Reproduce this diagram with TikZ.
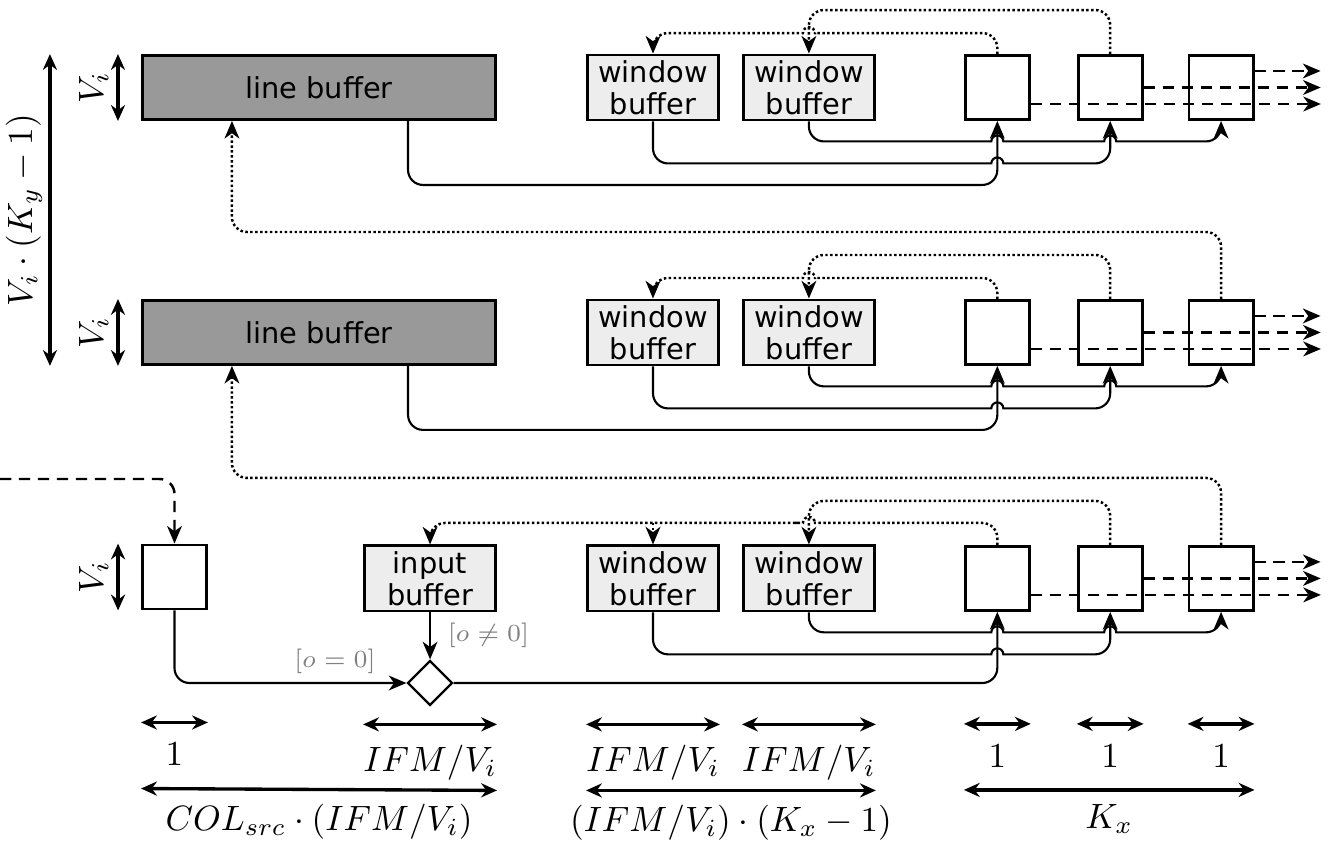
\documentclass[tikz,border=0pt]{standalone}
\usepackage{fontspec}
\newfontfamily\boxfont{DejaVu Sans}
\usetikzlibrary{arrows.meta, positioning, calc, shapes.geometric}
\usepackage{xcolor}
\definecolor{LineGray}{HTML}{999999}
\definecolor{BufGray}{HTML}{EDEDED}

\begin{document}
\begin{tikzpicture}[
    x=0.01cm, y=-0.01cm,
    linebuf/.style={
        draw, line width=0.8pt, fill=LineGray, minimum width=3.53cm, minimum height=0.64cm,
        font=\boxfont\fontsize{8.2}{9.1}\selectfont
    },
    winbuf/.style={
        draw, line width=0.8pt, fill=BufGray, minimum width=1.31cm, minimum height=0.65cm,
        inner sep=0pt, align=center, font=\boxfont\fontsize{8.2}{9.1}\selectfont
    },
    cellbox/.style={draw, line width=0.8pt, fill=white, minimum size=0.64cm},
    mux/.style={draw, diamond, line width=0.65pt, fill=white, minimum size=0.45cm, inner sep=0pt},
    conn/.style={-{Stealth[length=5pt, width=4.2pt, inset=1.5pt]}, line width=0.6pt},
    fb/.style={conn, line width=0.7pt, dash pattern=on 0.7pt off 0.7pt},
    outarr/.style={conn, line width=0.7pt, dash pattern=on 3.2pt off 2.2pt},
    dimarr/.style={{Stealth[length=4.5pt, width=4pt]}-{Stealth[length=4.5pt, width=4pt]}, line width=0.95pt},
    lbl/.style={font=\fontsize{9.8}{12}\selectfont, inner sep=0pt},
    cond/.style={font=\fontsize{7.5}{9}\selectfont, text=black!50, inner sep=0pt}
]
\useasboundingbox (0,0) rectangle (1329,843);

% =============================================
% ROW A
% =============================================
\node[linebuf] (lineA) at (319,87.5) {line buffer};
\node[winbuf, right=0.89cm of lineA] (winA1) {window\\buffer};
\node[winbuf, right=0.22cm of winA1] (winA2) {window\\buffer};
\node[cellbox, right=0.88cm of winA2] (cellA1) {};
\node[cellbox, right=0.46cm of cellA1] (cellA2) {};
\node[cellbox, right=0.44cm of cellA2] (cellA3) {};

% =============================================
% ROW B
% =============================================
\node[linebuf, below=1.78cm of lineA] (lineB) {line buffer};
\node[winbuf, right=0.89cm of lineB] (winB1) {window\\buffer};
\node[winbuf, right=0.22cm of winB1] (winB2) {window\\buffer};
\node[cellbox, right=0.88cm of winB2] (cellB1) {};
\node[cellbox, right=0.46cm of cellB1] (cellB2) {};
\node[cellbox, right=0.44cm of cellB2] (cellB3) {};

% =============================================
% ROW C
% =============================================
\node[cellbox] (srcC) at (174.5,577) {};
\node[winbuf, below=1.78cm of winB1] (winC1) {window\\buffer};
\node[winbuf, left=0.89cm of winC1] (inC) {input\\buffer};
\node[winbuf, right=0.22cm of winC1] (winC2) {window\\buffer};
\node[cellbox, right=0.88cm of winC2] (cellC1) {};
\node[cellbox, right=0.46cm of cellC1] (cellC2) {};
\node[cellbox, right=0.44cm of cellC2] (cellC3) {};
\node[mux, below=0.47cm of inC] (mux) {};

% levels of the connectors
\coordinate (hA1) at ($(winA1.south)+(0,-0.42cm)$);
\coordinate (hA2) at ($(winA2.south)+(0,-0.20cm)$);
\coordinate (hB1) at ($(winB1.south)+(0,-0.42cm)$);
\coordinate (hB2) at ($(winB2.south)+(0,-0.20cm)$);
\coordinate (hC1) at ($(winC1.south)+(0,-0.42cm)$);
\coordinate (hC2) at ($(winC2.south)+(0,-0.20cm)$);
\coordinate (fA1) at ($(cellA1.north)+(0,0.21cm)$);
\coordinate (fB1) at ($(cellB1.north)+(0,0.21cm)$);
\coordinate (fC1) at ($(cellC1.north)+(0,0.22cm)$);
\coordinate (src) at (0,479);

% =============================================
% ROW A: data paths
% =============================================
\draw[conn] ([xshift=0.89cm]lineA.south) [rounded corners=1.5mm] -- ++(0,-0.64cm) -| (cellA1.south);
\draw[conn] (winA1.south) [rounded corners=1.5mm] -- (hA1) -- ($(hA1 -| cellA1.south)+(-2mm,0)$)
    [sharp corners] -- ++(1.4mm,0) arc[start angle=180, end angle=0, radius=0.6mm] -- ++(1mm,0)
    [rounded corners=1.5mm] -- ++(1mm,0) -| (cellA2.south);
\draw[conn] (winA2.south) [rounded corners=1.5mm] -- (hA2) -- ($(hA2 -| cellA1.south)+(-2mm,0)$)
    [sharp corners] -- ++(1.4mm,0) arc[start angle=180, end angle=0, radius=0.6mm]
    -- ($(hA2 -| cellA2.south)+(-0.6mm,0)$) arc[start angle=180, end angle=0, radius=0.6mm] -- ++(1mm,0)
    [rounded corners=1.5mm] -- ++(1mm,0) -| (cellA3.south);

% feedback
\draw[fb] (cellA1.north) [rounded corners=1.5mm] -- (fA1) -- ($(fA1 -| winA2.north)+(2mm,0)$)
    [sharp corners] -- ++(-1.4mm,0) arc[start angle=0, end angle=180, radius=0.6mm] -- ++(-1mm,0)
    [rounded corners=1.5mm] -- ++(-1mm,0) -| (winA1.north);
\draw[fb] (cellA2.north) [rounded corners=1.5mm] -- ++(0,0.44cm) -| (winA2.north);

% outputs
\draw[outarr] ([yshift=-1.65mm]cellA1.east) -- ++(2.9cm,0);
\draw[outarr] (cellA2.east) -- ++(1.77cm,0);
\draw[outarr] ([yshift=1.65mm]cellA3.east) -- ++(0.66cm,0);

% =============================================
% ROW B: data paths
% =============================================
\draw[conn] ([xshift=0.89cm]lineB.south) [rounded corners=1.5mm] -- ++(0,-0.64cm) -| (cellB1.south);
\draw[conn] (winB1.south) [rounded corners=1.5mm] -- (hB1) -- ($(hB1 -| cellB1.south)+(-2mm,0)$)
    [sharp corners] -- ++(1.4mm,0) arc[start angle=180, end angle=0, radius=0.6mm] -- ++(1mm,0)
    [rounded corners=1.5mm] -- ++(1mm,0) -| (cellB2.south);
\draw[conn] (winB2.south) [rounded corners=1.5mm] -- (hB2) -- ($(hB2 -| cellB1.south)+(-2mm,0)$)
    [sharp corners] -- ++(1.4mm,0) arc[start angle=180, end angle=0, radius=0.6mm]
    -- ($(hB2 -| cellB2.south)+(-0.6mm,0)$) arc[start angle=180, end angle=0, radius=0.6mm] -- ++(1mm,0)
    [rounded corners=1.5mm] -- ++(1mm,0) -| (cellB3.south);

% feedback
\draw[fb] (cellB1.north) [rounded corners=1.5mm] -- (fB1) -- ($(fB1 -| winB2.north)+(2mm,0)$)
    [sharp corners] -- ++(-1.4mm,0) arc[start angle=0, end angle=180, radius=0.6mm] -- ++(-1mm,0)
    [rounded corners=1.5mm] -- ++(-1mm,0) -| (winB1.north);
\draw[fb] (cellB2.north) [rounded corners=1.5mm] -- ++(0,0.44cm) -| (winB2.north);
\draw[fb] (cellB3.north) [rounded corners=1.5mm] -- ++(0,0.67cm) -| ([xshift=-0.87cm]lineA.south);

% outputs
\draw[outarr] ([yshift=-1.65mm]cellB1.east) -- ++(2.9cm,0);
\draw[outarr] (cellB2.east) -- ++(1.77cm,0);
\draw[outarr] ([yshift=1.65mm]cellB3.east) -- ++(0.66cm,0);

% =============================================
% ROW C: data paths
% =============================================
\draw[outarr] (src) [rounded corners=1.5mm] -| (srcC.north);
\draw[conn] (srcC.south) [rounded corners=1.5mm] |- (mux.west);
\draw[conn] (inC.south) -- (mux.north);
\node[cond, anchor=south east] at ($(mux.west)+(-0.3cm,0.09cm)$) {$[o=0]$};
\node[cond, anchor=west] at ($(inC.south)+(0.17cm,-0.23cm)$) {$[o\neq0]$};
\draw[conn] (mux.east) [rounded corners=1.5mm] -| (cellC1.south);
\draw[conn] (winC1.south) [rounded corners=1.5mm] -- (hC1) -- ($(hC1 -| cellC1.south)+(-2mm,0)$)
    [sharp corners] -- ++(1.4mm,0) arc[start angle=180, end angle=0, radius=0.6mm] -- ++(1mm,0)
    [rounded corners=1.5mm] -- ++(1mm,0) -| (cellC2.south);
\draw[conn] (winC2.south) [rounded corners=1.5mm] -- (hC2) -- ($(hC2 -| cellC1.south)+(-2mm,0)$)
    [sharp corners] -- ++(1.4mm,0) arc[start angle=180, end angle=0, radius=0.6mm]
    -- ($(hC2 -| cellC2.south)+(-0.6mm,0)$) arc[start angle=180, end angle=0, radius=0.6mm] -- ++(1mm,0)
    [rounded corners=1.5mm] -- ++(1mm,0) -| (cellC3.south);

% feedback
\draw[fb] (cellC1.north) [rounded corners=1.5mm] -- (fC1) -- ($(fC1 -| winC2.north)+(2mm,0)$)
    [sharp corners] -- ++(-1.4mm,0) arc[start angle=0, end angle=180, radius=0.6mm] -- ++(-1mm,0)
    [rounded corners=1.5mm] -- ++(-1mm,0) -| (inC.north);
\draw[fb] (fC1 -| winC1.north) -- (winC1.north);
\draw[fb] (cellC2.north) [rounded corners=1.5mm] -- ++(0,0.44cm) -| (winC2.north);
\draw[fb] (cellC3.north) [rounded corners=1.5mm] -- ++(0,0.67cm) -| ([xshift=-0.87cm]lineB.south);

% outputs
\draw[outarr] ([yshift=-1.65mm]cellC1.east) -- ++(2.9cm,0);
\draw[outarr] (cellC2.east) -- ++(1.77cm,0);
\draw[outarr] ([yshift=1.65mm]cellC3.east) -- ++(0.66cm,0);

% =============================================
% DIMENSIONS
% =============================================
\draw[dimarr] ([xshift=-0.23cm]lineA.south west) -- ([xshift=-0.23cm]lineA.north west)
    node[lbl, midway, sloped, above=0.8mm] {$V_i$};
\draw[dimarr] ([xshift=-0.23cm]lineB.south west) -- ([xshift=-0.23cm]lineB.north west)
    node[lbl, midway, sloped, above=0.8mm] {$V_i$};
\draw[dimarr] ([xshift=-0.23cm]srcC.south west) -- ([xshift=-0.23cm]srcC.north west)
    node[lbl, midway, sloped, above=0.8mm] {$V_i$};
\draw[dimarr] ([xshift=-0.91cm]lineB.south west) -- ([xshift=-0.91cm]lineA.north west)
    node[lbl, midway, sloped, above=0.6mm] {$V_i\cdot(K_y-1)$};

\draw[dimarr] ([yshift=-1.12cm]srcC.south west) -- ([yshift=-1.12cm]srcC.south east)
    node[lbl, midway, below=1.9mm] {$1$};
\draw[dimarr] ([yshift=-1.12cm]inC.south west) -- ([yshift=-1.12cm]inC.south east)
    node[lbl, midway, below=1.9mm] {$IFM/V_i$};
\draw[dimarr] ([yshift=-1.12cm]winC1.south west) -- ([yshift=-1.12cm]winC1.south east)
    node[lbl, midway, below=1.9mm] {$IFM/V_i$};
\draw[dimarr] ([yshift=-1.12cm]winC2.south west) -- ([yshift=-1.12cm]winC2.south east)
    node[lbl, midway, below=1.9mm] {$IFM/V_i$};
\draw[dimarr] ([yshift=-1.12cm]cellC1.south west) -- ([yshift=-1.12cm]cellC1.south east)
    node[lbl, midway, below=1.9mm] {$1$};
\draw[dimarr] ([yshift=-1.12cm]cellC2.south west) -- ([yshift=-1.12cm]cellC2.south east)
    node[lbl, midway, below=1.9mm] {$1$};
\draw[dimarr] ([yshift=-1.12cm]cellC3.south west) -- ([yshift=-1.12cm]cellC3.south east)
    node[lbl, midway, below=1.9mm] {$1$};

\draw[dimarr] ([yshift=-1.78cm]srcC.south west) -- ([yshift=-1.78cm]inC.south east)
    node[lbl, midway, below=1.3mm] {$COL_{src}\cdot(IFM/V_i)$};
\draw[dimarr] ([yshift=-1.78cm]winC1.south west) -- ([yshift=-1.78cm]winC2.south east)
    node[lbl, midway, below=1.3mm] {$(IFM/V_i)\cdot(K_x-1)$};
\draw[dimarr] ([yshift=-1.78cm]cellC1.south west) -- ([yshift=-1.78cm]cellC3.south east)
    node[lbl, midway, below=1.3mm] {$K_x$};

\end{tikzpicture}
\end{document}
